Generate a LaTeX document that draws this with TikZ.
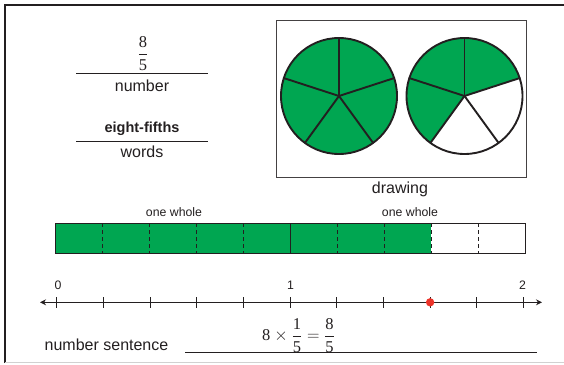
\documentclass[tikz,border=0pt]{standalone}
\usepackage{amsmath}
\usepackage{fontspec}
\setmainfont{Liberation Sans}
\newfontfamily\tms{Liberation Serif}
\usetikzlibrary{arrows.meta}
\definecolor{pgreen}{RGB}{0,166,81}
\definecolor{ink}{RGB}{35,31,32}
\definecolor{dotred}{RGB}{236,50,40}
\newcommand\tfr[2]{\genfrac{}{}{0.8pt}{0}{\text{\tms #1}}{\text{\tms #2}}}
\begin{document}
\begin{tikzpicture}[x=1pt,y=-1pt,
  lbl/.style={font=\fontsize{16}{19}\selectfont, inner sep=0pt, anchor=base, text=ink},
  boldlbl/.style={font=\fontsize{14.5}{17}\selectfont\bfseries, inner sep=0pt, anchor=base, text=ink},
  smalllbl/.style={font=\fontsize{12.3}{14}\selectfont, inner sep=0pt, anchor=base, text=ink},
  mathlbl/.style={font=\fontsize{16.5}{19}\selectfont, inner sep=0pt, text=ink},
  rule/.style={draw=ink, line width=1pt},
  pie/.style={draw=ink, line width=1.9pt},
  barline/.style={draw=ink, line width=1pt},
  dashline/.style={draw=ink, line width=1pt, dash pattern=on 4pt off 3pt},
  tick/.style={draw=ink, line width=1pt}]
\useasboundingbox (0,0) rectangle (564,364);
% outer frame
\draw[line width=1.2pt, ink] (5,363) -- (5,5) -- (566,5);
\draw[line width=1pt, black!18] (5,362.8) -- (566,362.8);

% number / words
\node[mathlbl] (frac) at (143,53.5) {$\tfr{8}{5}$};
\draw[rule] (76,73) -- (208,73);
\node[lbl] (number) at (142,91) {number};
\node[boldlbl] (eight) at (142,132) {eight-fifths};
\draw[rule] (76,141) -- (208,141);
\node[lbl] (words) at (142,157.5) {words};

% drawing box
\draw[line width=1pt, ink!85] (276.5,20) rectangle (526.5,177);
\node[lbl] (drawing) at (400,193) {drawing};

% left pie (5/5)
\begin{scope}[shift={(339,96)}, yscale=-1]
  \fill[pgreen] (0,0) circle[radius=58];
  \foreach \a in {90,18,-54,-126,162} \draw[pie, line cap=round] (0,0) -- (\a:58);
  \draw[pie] (0,0) circle[radius=58];
\end{scope}
% right pie (3/5)
\begin{scope}[shift={(464.5,96)}, yscale=-1]
  \fill[pgreen] (0,0) -- (18:58) arc[start angle=18, end angle=234, radius=58] -- cycle;
  \foreach \a in {90,18,-54,-126,162} \draw[pie, line cap=round] (0,0) -- (\a:58);
  \draw[pie] (0,0) circle[radius=58];
\end{scope}

% fraction bar
\node[smalllbl] (w1) at (174,216) {one whole};
\node[smalllbl] (w2) at (410,216) {one whole};
\fill[pgreen] (55.7,223) rectangle (430.8,253);
\foreach \i in {1,2,3,4,6,7,8,9} \draw[dashline] ({55.7+46.93*\i},223) -- ({55.7+46.93*\i},253);
\draw[barline] (290.35,223) -- (290.35,253);
\draw[barline] (55.7,223) rectangle (525,253);

% number line
\coordinate (nl) at (40,302.3);
\coordinate (nr) at (542,302.3);
\draw[line width=1pt, ink, {Stealth[length=6pt,width=6pt]}-{Stealth[length=6pt,width=6pt]}] (nl) -- (nr);
\foreach \i in {0,...,10} \draw[tick] ({56.7+46.67*\i},297) -- ({56.7+46.67*\i},307.5);
\node[smalllbl] (n0) at (58,289.5) {0};
\node[smalllbl] (n1) at (290.5,289.5) {1};
\node[smalllbl] (n2) at (522.5,289.5) {2};
\fill[dotred] (430.1,302.3) circle[radius=4.2];

% number sentence
\node[lbl] (ns) at (106.5,350) {number sentence};
\draw[rule] (185,352.8) -- (537,352.8);
\node[mathlbl, anchor=base west] (eq) at (262,340.7) {$\text{\tms 8}\times\tfr{1}{5}=\tfr{8}{5}$};
\end{tikzpicture}
\end{document}
